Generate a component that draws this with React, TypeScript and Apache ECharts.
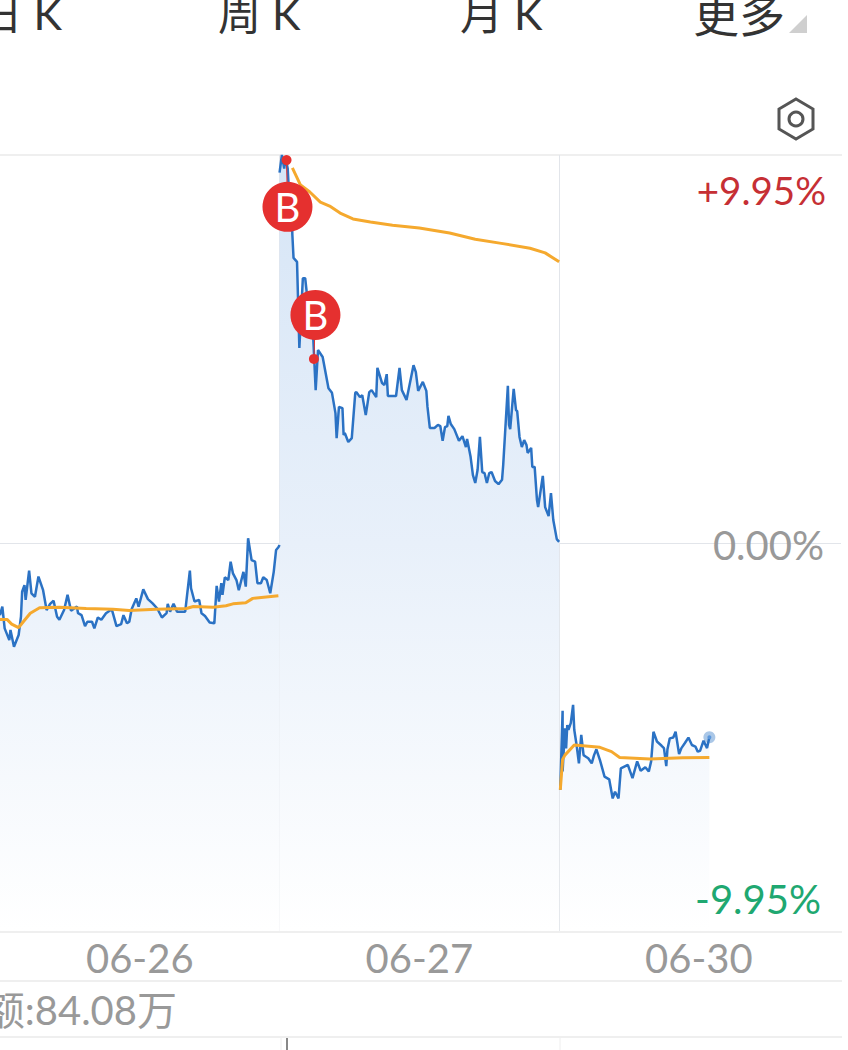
import React, { useEffect, useRef } from "react";
import * as echarts from "echarts";

const dateLabels = ["06-26", "06-27", "06-30"];
const dayCenters = [120, 360, 600];
const dayBoundaries = [240, 480];
const limitLabels = ["+9.95%", "0.00%", "-9.95%"];
const tabs = ["日 K", "周 K", "月 K", "更多"];
const volumeText = "额:84.08万";

const priceDay1 = [[0,-1.85],[2,-1.63],[4,-2.19],[8,-2.49],[9,-2.23],[12,-2.66],[16,-2.36],[18,-1.89],[19,-1.25],[21,-1.08],[22,-1.46],[25,-0.71],[27,-1.29],[30,-1.38],[33,-0.86],[37,-1.21],[40,-1.72],[43,-1.56],[46,-1.48],[49,-1.89],[51,-1.97],[55,-1.72],[58,-1.33],[61,-1.74],[66,-1.63],[67,-1.8],[70,-1.85],[73,-2.13],[75,-2.02],[79,-2.02],[81,-2.19],[84,-1.91],[87,-1.97],[91,-1.8],[96,-1.7],[100,-2.13],[104,-2.08],[106,-1.85],[109,-2.06],[111,-2.02],[113,-1.7],[117,-1.42],[119,-1.63],[123,-1.19],[127,-1.44],[131,-1.55],[135,-1.68],[139,-1.91],[143,-1.8],[144,-1.56],[146,-1.76],[149,-1.56],[152,-1.76],[159,-1.76],[163,-0.71],[164,-1.16],[167,-1.5],[171,-1.46],[173,-1.8],[176,-1.87],[180,-2.04],[184,-2.06],[186,-1.1],[188,-1.5],[190,-1.03],[191,-1.33],[193,-0.88],[196,-0.95],[198,-0.48],[200,-0.78],[203,-0.95],[205,-1.21],[209,-0.74],[211,-1.12],[213,0.12],[216,-0.44],[219,-0.48],[221,-1.03],[224,-1.03],[226,-0.88],[229,-0.95],[232,-1.29],[235,-0.74],[237,-0.18],[239,-0.11],[240,-0.05]];
const priceDay2 = [[240,9.5],[242,9.95],[244,9.6],[245,9.9],[247,9.6],[248,9.05],[249,8.03],[250,8.9],[251,7.9],[252,7.31],[255,7.21],[257,5.0],[260,6.79],[262,6.79],[265,5.97],[269,5.21],[271,3.92],[273,4.95],[277,4.77],[282,3.97],[285,3.85],[288,3.33],[289,2.69],[291,3.49],[294,3.46],[295,2.77],[296,2.82],[299,2.59],[302,2.69],[305,3.85],[306,3.87],[309,3.74],[311,3.79],[314,3.28],[317,3.87],[319,3.92],[323,3.74],[324,4.49],[328,4.1],[330,4.05],[332,4.33],[333,3.77],[340,3.77],[343,4.49],[345,3.92],[349,3.67],[355,4.56],[357,4.38],[359,3.9],[363,4.13],[366,3.9],[367,3.49],[369,2.95],[373,2.95],[376,3.03],[378,3.0],[380,2.62],[382,2.97],[384,3.0],[385,3.26],[387,3.05],[390,2.92],[394,2.62],[397,2.74],[400,2.46],[401,2.67],[404,2.21],[406,1.74],[408,1.54],[410,1.87],[412,2.72],[414,1.82],[416,1.79],[418,1.54],[420,1.79],[422,1.82],[425,1.59],[428,1.51],[431,1.62],[432,2.0],[436,4.03],[437,3.03],[438,2.92],[441,3.95],[443,3.41],[444,3.38],[446,2.72],[448,2.46],[450,2.64],[452,2.51],[453,2.31],[456,2.44],[457,1.95],[459,1.95],[461,1.1],[462,0.92],[466,1.72],[468,0.92],[471,0.69],[473,1.28],[475,0.59],[478,0.1],[480,0.03]];
const priceDay3 = [[481,-6.33],[483,-4.3],[483,-5.86],[485,-4.75],[486,-5.27],[487,-4.67],[488,-4.79],[490,-4.62],[492,-4.15],[493,-4.79],[495,-5.18],[497,-5.65],[499,-4.92],[501,-5.44],[503,-5.48],[505,-5.52],[508,-5.65],[510,-5.44],[512,-5.29],[515,-5.56],[519,-5.99],[523,-6.06],[526,-6.55],[528,-6.38],[531,-6.55],[533,-5.78],[539,-5.69],[543,-6.03],[547,-5.6],[550,-5.84],[554,-5.75],[557,-5.86],[559,-5.6],[561,-4.84],[564,-5.09],[568,-5.2],[570,-5.26],[572,-5.72],[573,-5.29],[575,-5.01],[578,-4.99],[580,-4.84],[583,-5.41],[585,-5.26],[588,-5.13],[591,-4.99],[594,-5.18],[597,-5.22],[599,-5.35],[601,-5.33],[604,-5.07],[607,-5.26],[609,-4.98]];

const avgDay1 = [[0,-1.96],[6,-1.96],[10,-2.08],[16,-2.17],[20,-2.02],[26,-1.8],[34,-1.66],[51,-1.65],[74,-1.68],[97,-1.7],[111,-1.73],[134,-1.7],[160,-1.68],[166,-1.63],[183,-1.65],[194,-1.61],[200,-1.56],[211,-1.53],[217,-1.42],[239,-1.35]];
const avgDay2 = [[251,9.62],[258,9.18],[266,9.0],[275,8.74],[283,8.64],[292,8.46],[303,8.31],[318,8.23],[337,8.15],[360,8.08],[386,7.95],[408,7.79],[429,7.69],[455,7.56],[468,7.44],[480,7.21]];
const avgDay3 = [[481,-6.33],[483,-5.55],[485,-5.44],[493,-5.18],[498,-5.19],[515,-5.24],[525,-5.35],[532,-5.5],[558,-5.54],[586,-5.51],[609,-5.5]];

const buyBadges = [[246.8,8.62],[270.8,5.85]];
const buyDots = [[246,9.82],[269.5,4.72]];
const lastPoint = [[609,-4.98]];

const priceColor = "#2b72c4";
const avgColor = "#f5a92e";
const red = "#e5302f";

function App() {
  const ref = useRef<HTMLDivElement>(null);
  useEffect(() => {
    document.body.style.margin = "0";
    document.body.style.background = "#fff";
    const chart = echarts.init(ref.current!, null, { renderer: "svg" });
    const hexPts: number[][] = [[796,99],[813,109],[813,129],[796,139],[779,129],[779,109]];
    const area = {
      opacity: 1,
      color: new echarts.graphic.LinearGradient(0, 155, 0, 931, [
        { offset: 0, color: "#d6e5f6" },
        { offset: 0.5, color: "#e8f0fa" },
        { offset: 1, color: "#ffffff" },
      ], true),
      origin: "start" as const,
    };
    const priceSeries = (data: number[][]) => ({
      type: "line", data, showSymbol: false, smooth: false, z: 3,
      lineStyle: { color: priceColor, width: 2.5 }, areaStyle: area,
    });
    const avgSeries = (data: number[][]) => ({
      type: "line", data, showSymbol: false, z: 4,
      lineStyle: { color: avgColor, width: 3 },
    });
    const leader = (a: number[], b: number[]) => ({
      type: "line", data: [a, b], showSymbol: false, z: 5,
      lineStyle: { color: red, width: 1 },
    });
    const cjk = "Lato, 'Noto Sans CJK SC', sans-serif";
    const label = (text: string, x: number, y: number, fill: string, size = 40, align = "left") => ({
      type: "text", x, y, z: 20,
      style: { text, fill, font: `${size}px ${cjk}`, textAlign: align, textVerticalAlign: "middle" },
    });
    const hline = (y: number) => ({
      type: "line", shape: { x1: 0, y1: y, x2: 842, y2: y }, style: { stroke: "#efefef", lineWidth: 2 },
    });
    const vline = (x: number, y1: number, y2: number, stroke: string, w = 1) => ({
      type: "line", shape: { x1: x, y1, x2: x, y2 }, style: { stroke, lineWidth: w },
    });
    chart.setOption({
      animation: false,
      backgroundColor: "#fff",
      grid: { left: 0, top: 155, width: 841, height: 776 },
      xAxis: {
        type: "value", min: 0, max: 722,
        axisLine: { show: false },
        axisTick: { show: false, customValues: dayBoundaries },
        splitLine: { show: true, lineStyle: { color: "#e2e5ea", width: 1 } },
        axisLabel: {
          customValues: dayCenters, margin: 7, color: "#999999", fontFamily: "Lato", fontSize: 40,
          formatter: (v: number) => dateLabels[dayCenters.indexOf(v)] ?? "",
        },
      },
      yAxis: {
        type: "value", min: -9.95, max: 9.95,
        axisLine: { show: false },
        axisTick: { show: false, customValues: [0] },
        axisLabel: { show: false },
        splitLine: { show: true, lineStyle: { color: "#e2e5ea", width: 1 } },
      },
      series: [
        priceSeries(priceDay1), priceSeries(priceDay2), priceSeries(priceDay3),
        avgSeries(avgDay1), avgSeries(avgDay2), avgSeries(avgDay3),
        leader(buyBadges[0], buyDots[0]), leader(buyBadges[1], buyDots[1]),
        { type: "scatter", data: buyDots, symbolSize: 10, z: 6, itemStyle: { color: red, opacity: 1 } },
        {
          type: "scatter", data: buyBadges, symbolSize: 50, z: 7, itemStyle: { color: red, opacity: 1 },
          label: { show: true, position: "inside", formatter: "B", color: "#fff", fontSize: 40, fontFamily: "Lato" },
        },
        { type: "scatter", data: lastPoint, symbolSize: 12, z: 6, itemStyle: { color: "rgba(43,114,196,0.4)", opacity: 1 } },
        { type: "scatter", data: lastPoint, symbolSize: 4, z: 7, itemStyle: { color: "#5b97dc", opacity: 1 } },
      ],
      graphic: [
        hline(155), hline(932), hline(981), hline(1037),
        vline(281, 1038, 1050, "#eeeeee"), vline(560, 1038, 1050, "#eeeeee"), vline(287, 1038, 1050, "#888888", 2),
        label(tabs[0], 62, 13, "#333333", 43, "right"),
        label(tabs[1], 218, 13, "#333333", 43),
        label(tabs[2], 460, 13, "#333333", 43),
        label(tabs[3], 693, 14, "#333333", 46),
        { type: "polygon", shape: { points: [[807,15],[807,33],[789,33]] }, style: { fill: "#cfcfcf" } },
        { type: "polygon", shape: { points: hexPts }, style: { fill: "none", stroke: "#555555", lineWidth: 3 } },
        { type: "circle", shape: { cx: 796, cy: 119, r: 7 }, style: { fill: "none", stroke: "#555555", lineWidth: 3 } },
        label(limitLabels[0], 826, 190, "#c62f34", 38.5, "right"),
        label(limitLabels[1], 824, 545, "#999999", 40, "right"),
        label(limitLabels[2], 821, 899, "#1fa871", 40, "right"),
        label(volumeText, 177, 1010, "#999999", 40, "right"),
      ],
    });
    return () => chart.dispose();
  }, []);
  return <div ref={ref} style={{ width: 848, height: 1050 }} />;
}

export default App;
